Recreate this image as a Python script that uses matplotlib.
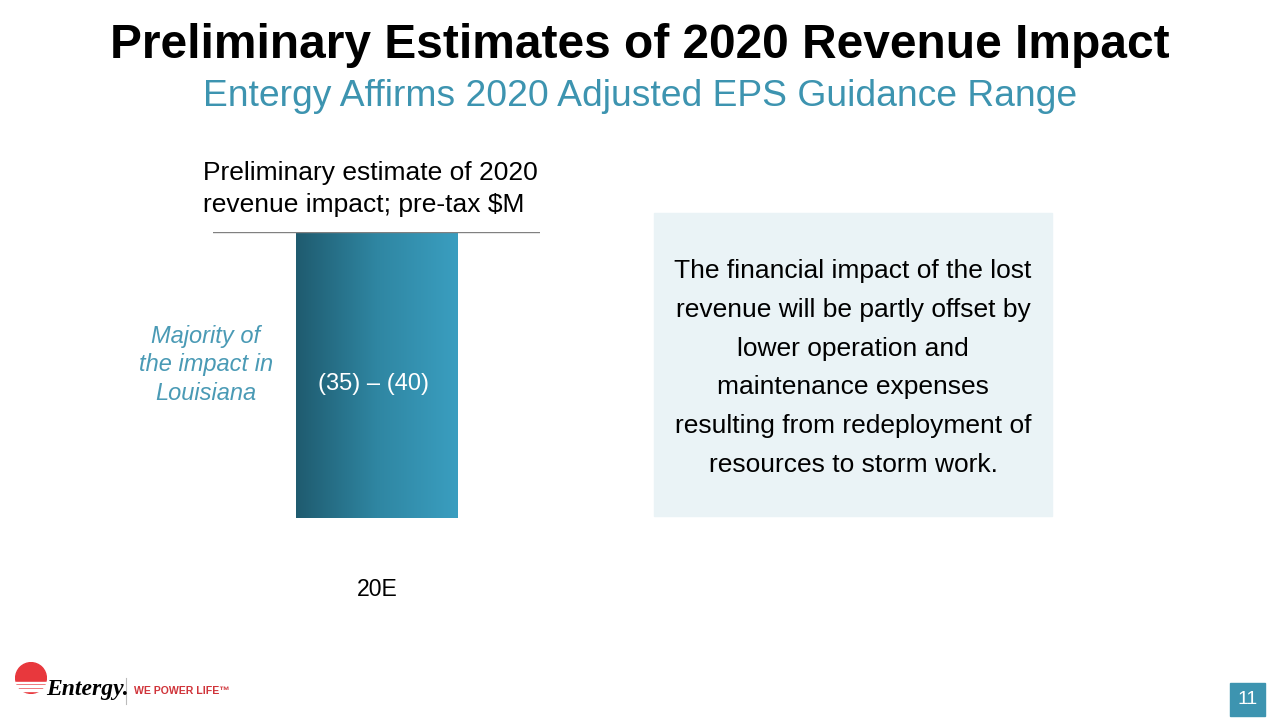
import numpy as np
import matplotlib.pyplot as plt
from matplotlib.patches import Rectangle, Circle
from matplotlib.colors import LinearSegmentedColormap

# data
categories = ['20E']
values = [-40]
bar_label = '(35) – (40)'
title = 'Preliminary Estimates of 2020 Revenue Impact'
subtitle = 'Entergy Affirms 2020 Adjusted EPS Guidance Range'
chart_title = 'Preliminary estimate of 2020\nrevenue impact; pre-tax $M'
side_note = 'Majority of\nthe impact in\nLouisiana'
box_text = ('The financial impact of the lost\nrevenue will be partly offset by\n'
            'lower operation and\nmaintenance expenses\n'
            'resulting from redeployment of\nresources to storm work.')

plt.rcParams['font.family'] = ['Liberation Sans', 'DejaVu Sans']
teal = '#3d94b0'

fig = plt.figure(figsize=(12.8, 7.2), dpi=100)
W, H = 1280, 720

def px(x0, y0, x1, y1):
    # pixel box (top-left origin) -> figure axes rect
    return [x0 / W, 1 - y1 / H, (x1 - x0) / W, (y1 - y0) / H]

# titles
fig.text(0.5, 1 - 45 / H, title, ha='center', va='center', fontsize=34.5,
         fontweight='bold', color='black')
fig.text(0.5, 1 - 96 / H, subtitle, ha='center', va='center', fontsize=26.8,
         color=teal)

# chart
ax = fig.add_axes(px(213, 232, 540, 518))
ax.set_xlim(-1, 1)
ax.set_ylim(-40, 0)
bars = ax.bar(range(len(categories)), values, width=0.99, color='none')
grad = np.linspace(0, 1, 256).reshape(1, -1)
cmap = LinearSegmentedColormap.from_list('g', ['#1f5b6f', '#2f86a2', '#3a9ec0'])
for b in bars:
    x0, w = b.get_x(), b.get_width()
    y0, h = b.get_y(), b.get_height()
    im = ax.imshow(grad, cmap=cmap, aspect='auto',
                   extent=[x0, x0 + w, y0 + h, y0], zorder=2)
    im.set_clip_path(b)
    ax.text(x0 + w / 2 - 0.02, y0 + h / 2 - 1.2, bar_label, ha='center',
            va='center', color='white', fontsize=17, zorder=3)
ax.axhline(0, color='#808080', lw=1, zorder=4)
for s in ax.spines.values():
    s.set_visible(False)
ax.set_xticks([])
ax.set_yticks([])
ax.patch.set_alpha(0)

fig.text(377 / W, 1 - 589 / H, categories[0], ha='center', va='center',
         fontsize=16.6)
fig.text(203 / W, 1 - 189 / H, chart_title, ha='left', va='center',
         fontsize=19, linespacing=1.41)
fig.text(206 / W, 1 - 365 / H, side_note, ha='center', va='center',
         fontsize=17, style='italic', color='#4a9ab5', linespacing=1.31)

# side box
fig.patches.append(Rectangle((654 / W, 1 - 516 / H), 398 / W, 303 / H,
                             transform=fig.transFigure, color='#eaf3f6',
                             zorder=0))
fig.text(853 / W, 1 - 368 / H, box_text, ha='center', va='center',
         fontsize=19, linespacing=1.77)

# page number
fig.patches.append(Rectangle((1230 / W, 1 - 716 / H), 35 / W, 33 / H,
                             transform=fig.transFigure, color=teal))
fig.text(1247.5 / W, 1 - 699 / H, '11', ha='center', va='center',
         color='white', fontsize=14)

# logo
lax = fig.add_axes(px(15, 662, 47, 694))
lax.set_xlim(0, 1)
lax.set_ylim(0, 1)
lax.set_aspect('equal')
lax.axis('off')
lax.add_patch(Circle((0.5, 0.5), 0.48, color='#e8383d'))
for yy in [0.1, 0.22, 0.34]:
    lax.add_patch(Rectangle((0, yy), 1, 0.05, color='white'))
fig.text(46 / W, 1 - 690 / H, 'Entergy.', ha='left', va='center',
         fontsize=17, family='Liberation Serif', style='italic',
         fontweight='bold')
fig.add_artist(plt.Line2D([126 / W, 126 / W], [1 - 704 / H, 1 - 678 / H],
                          color='#bbbbbb', lw=0.8))
fig.text(134 / W, 1 - 691 / H, 'WE POWER LIFE™', ha='left', va='center',
         fontsize=7.6, color='#d0343a', fontweight='bold')

fig.savefig('out.png', dpi=100)
